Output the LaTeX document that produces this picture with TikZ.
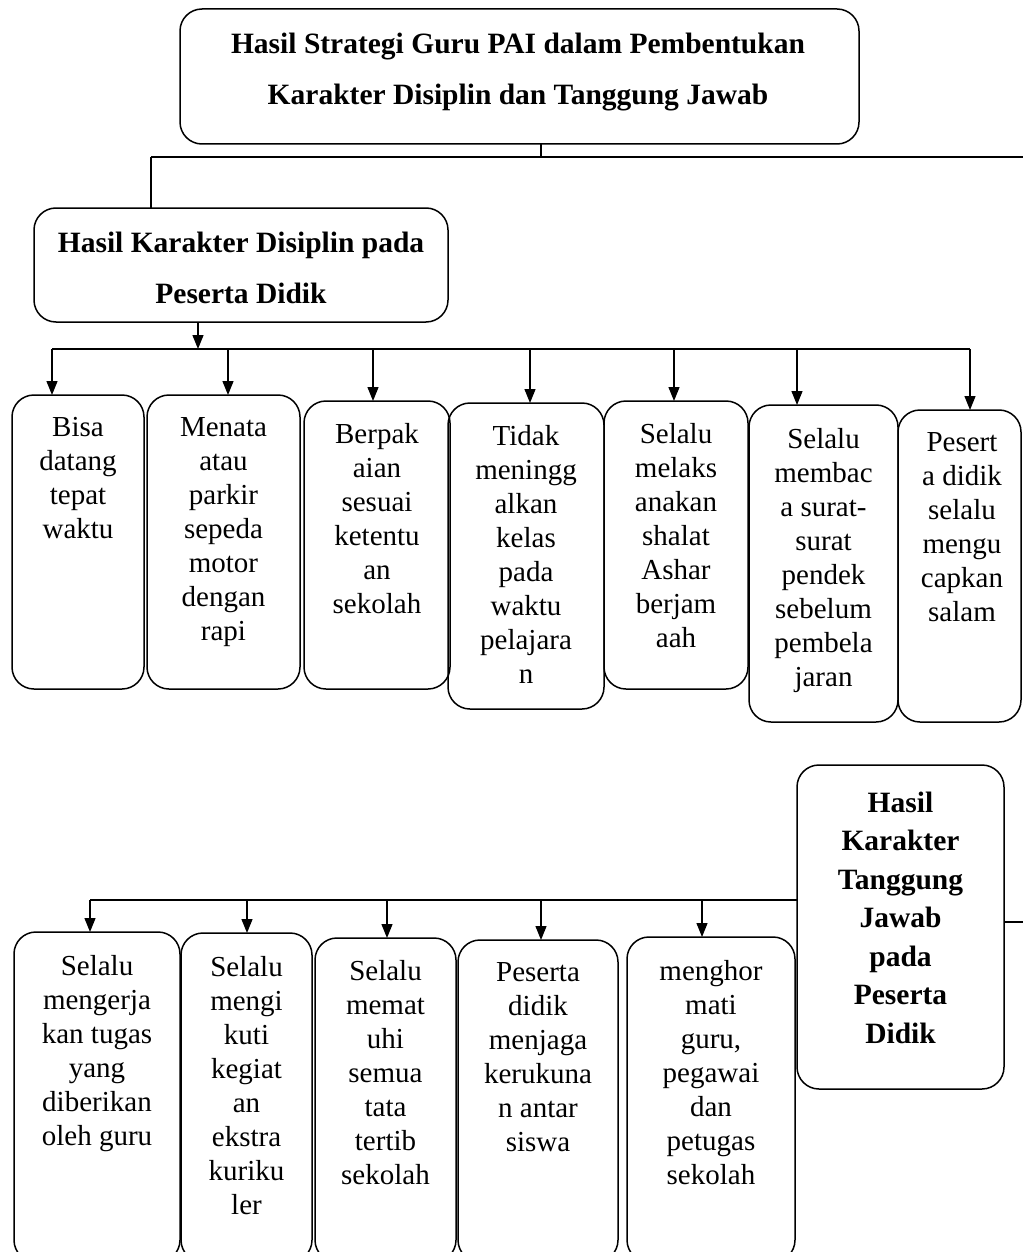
\documentclass[tikz,border=0pt]{standalone}
\usepackage{fontspec}
\setmainfont{Liberation Serif}
\usetikzlibrary{arrows.meta}
\tikzset{
  box/.style={draw, line width=1.5pt, rounded corners=22pt, inner sep=0pt, outer sep=0pt},
  txt/.style={anchor=north, inner sep=0pt, align=center, font=\fontsize{29}{34}\selectfont},
  ttl/.style={anchor=north, inner sep=0pt, align=center, font=\bfseries\fontsize{29.5}{51}\selectfont},
  tjt/.style={anchor=north, inner sep=0pt, align=center, font=\bfseries\fontsize{29.5}{38.5}\selectfont},
  conn/.style={line width=1.3pt},
  arr/.style={line width=1.3pt, -{Triangle[length=14pt,width=11pt]}}
}
\begin{document}
\begin{tikzpicture}[x=1pt,y=-1pt]
\useasboundingbox (0,0) rectangle (1023,1252);
\clip (0,0) rectangle (1023,1252);
% top box
\node[box, minimum width=679pt, minimum height=135pt] (T) at (519.5,76.5) {};
\node[ttl] (Tt) at (518,32.5) {Hasil Strategi Guru PAI dalam Pembentukan\\Karakter Disiplin dan Tanggung Jawab};
% disiplin box
\node[box, minimum width=414pt, minimum height=114pt] (D) at (241,265) {};
\node[ttl] (Dt) at (241,232) {Hasil Karakter Disiplin pada\\Peserta Didik};
% upper boxes
\node[box, minimum width=132pt, minimum height=294pt] (b1) at (78,542) {};
\node[box, minimum width=153pt, minimum height=294pt] (b2) at (223.5,542) {};
\node[box, minimum width=146pt, minimum height=288pt] (b3) at (377,545) {};
\node[box, minimum width=156pt, minimum height=306pt] (b4) at (526,556) {};
\node[box, minimum width=144pt, minimum height=288pt] (b5) at (676,545) {};
\node[box, minimum width=149pt, minimum height=317pt] (b6) at (823.5,563.5) {};
\node[box, minimum width=123pt, minimum height=312pt] (b7) at (959.5,566) {};
\node[txt] (t1) at (78,417) {Bisa\\datang\\tepat\\waktu};
\node[txt] (t2) at (223.5,417) {Menata\\atau\\parkir\\sepeda\\motor\\dengan\\rapi};
\node[txt] (t3) at (377,423) {Berpak\\aian\\sesuai\\ketentu\\an\\sekolah};
\node[txt] (t4) at (526,425) {Tidak\\meningg\\alkan\\kelas\\pada\\waktu\\pelajara\\n};
\node[txt] (t5) at (676,423) {Selalu\\melaks\\anakan\\shalat\\Ashar\\berjam\\aah};
\node[txt] (t6) at (823.5,428) {Selalu\\membac\\a surat-\\surat\\pendek\\sebelum\\pembela\\jaran};
\node[txt] (t7) at (962,432) {Pesert\\a didik\\selalu\\mengu\\capkan\\salam};
% tanggung jawab box
\node[box, minimum width=207pt, minimum height=324pt] (TJ) at (900.5,927) {};
\node[tjt] (TJt) at (900.5,791.5) {Hasil\\Karakter\\Tanggung\\Jawab\\pada\\Peserta\\Didik};
% lower boxes
\node[box, minimum width=166pt, minimum height=330pt] (l1) at (97,1097) {};
\node[box, minimum width=131pt, minimum height=329pt] (l2) at (246.5,1097.5) {};
\node[box, minimum width=141pt, minimum height=324pt] (l3) at (385.5,1100) {};
\node[box, minimum width=160pt, minimum height=322pt] (l4) at (538,1101) {};
\node[box, minimum width=168pt, minimum height=325pt] (l5) at (711,1099.5) {};
\node[txt] (s1) at (97,955) {Selalu\\mengerja\\kan tugas\\yang\\diberikan\\oleh guru};
\node[txt] (s2) at (246.5,956) {Selalu\\mengi\\kuti\\kegiat\\an\\ekstra\\kuriku\\ler};
\node[txt] (s3) at (385.5,960) {Selalu\\memat\\uhi\\semua\\tata\\tertib\\sekolah};
\node[txt] (s4) at (538,962) {Peserta\\didik\\menjaga\\kerukuna\\n antar\\siswa};
\node[txt] (s5) at (711,960) {menghor\\mati\\guru,\\pegawai\\dan\\petugas\\sekolah};
% top connectors
\coordinate (tb) at (541,157);
\coordinate (tl) at (151,157);
\coordinate (tr) at (1023,157);
\draw[conn] (T.south -| tb) -- (tb);
\draw[conn] (tl) -- (tr);
\draw[conn] (tl) -- (tl |- D.north);
% disiplin bus
\coordinate (dA) at (198,349);
\draw[arr] (D.south -| dA) -- (dA);
\coordinate (u1) at (52,349);
\coordinate (u2) at (228,349);
\coordinate (u3) at (373,349);
\coordinate (u4) at (530,349);
\coordinate (u5) at (674,349);
\coordinate (u6) at (797,349);
\coordinate (u7) at (970,349);
\draw[conn] (u1) -- (u7);
\draw[arr] (u1) -- (u1 |- b1.north);
\draw[arr] (u2) -- (u2 |- b2.north);
\draw[arr] (u3) -- (u3 |- b3.north);
\draw[arr] (u4) -- (u4 |- b4.north);
\draw[arr] (u5) -- (u5 |- b5.north);
\draw[arr] (u6) -- (u6 |- b6.north);
\draw[arr] (u7) -- (u7 |- b7.north);
% tanggung jawab bus
\coordinate (v1) at (90,900);
\coordinate (v2) at (247,900);
\coordinate (v3) at (387,900);
\coordinate (v4) at (541,900);
\coordinate (v5) at (702,900);
\draw[conn] (v1) -- (v1 -| TJ.west);
\draw[arr] (v1) -- (v1 |- l1.north);
\draw[arr] (v2) -- (v2 |- l2.north);
\draw[arr] (v3) -- (v3 |- l3.north);
\draw[arr] (v4) -- (v4 |- l4.north);
\draw[arr] (v5) -- (v5 |- l5.north);
\coordinate (tjr) at (1023,922);
\draw[conn] (TJ.east |- tjr) -- (tjr);
\end{tikzpicture}
\end{document}
